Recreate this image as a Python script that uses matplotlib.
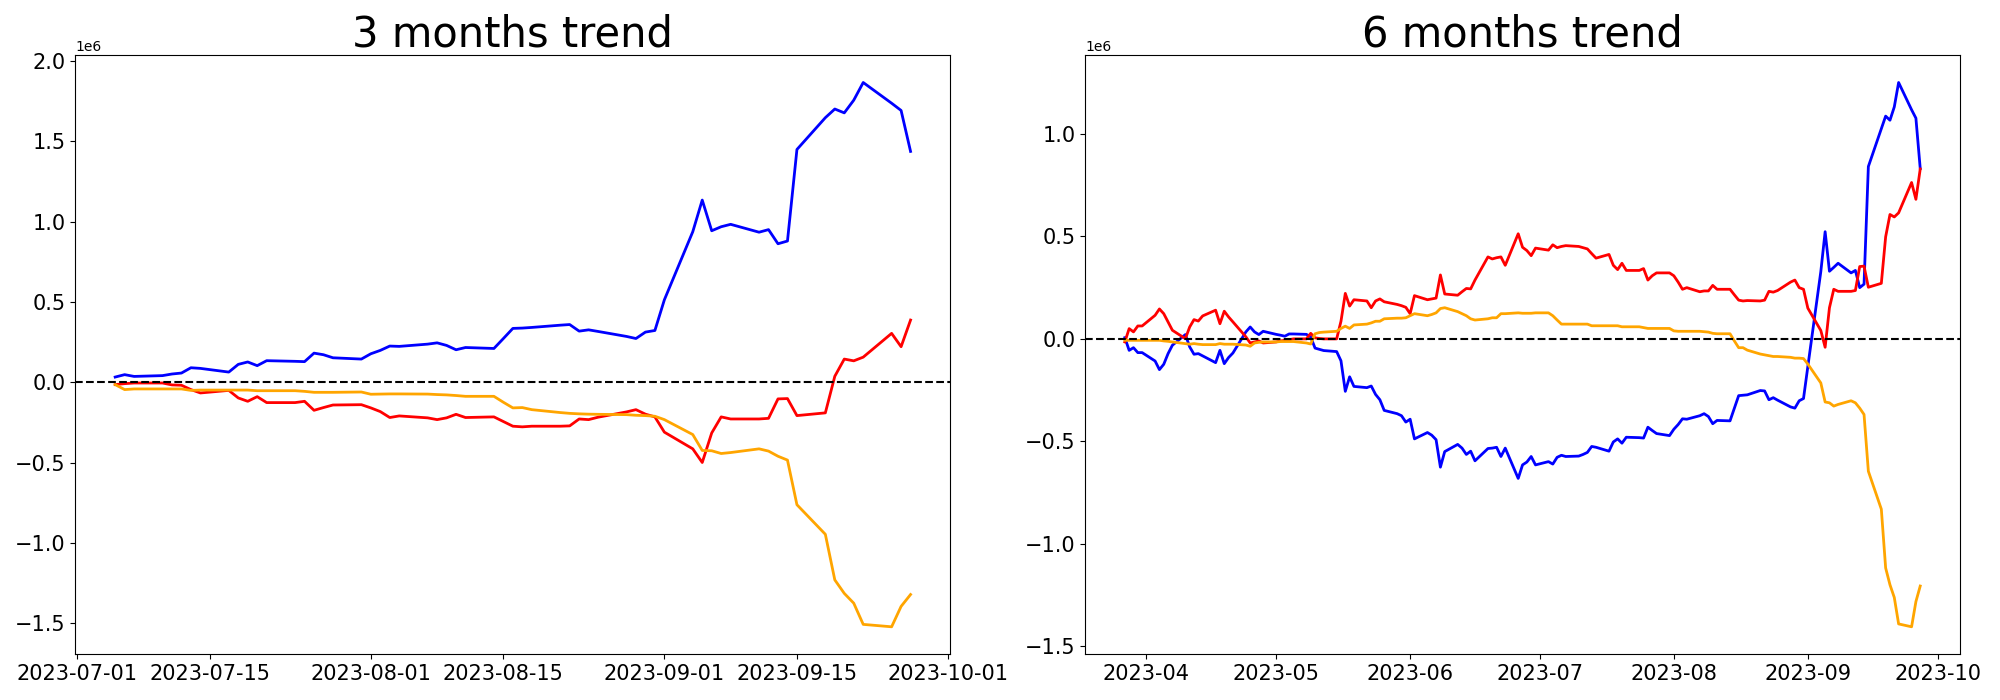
import pandas as pd
import matplotlib
matplotlib.use("Agg")
import matplotlib.pyplot as plt
import matplotlib.dates as mdates

# business days shown in each panel
dates_3m = pd.bdate_range("2023-07-05", "2023-09-27")
dates_6m = pd.bdate_range("2023-03-27", "2023-09-27")

# 3 months trend (values in 1e6)
blue_3m = [0.033, 0.048, 0.037, 0.042, 0.052, 0.058, 0.091, 0.087, 0.064, 0.112,
           0.127, 0.104, 0.135, 0.131, 0.129, 0.182, 0.172, 0.153, 0.145,
           0.178, 0.199, 0.226, 0.224, 0.238, 0.246, 0.230, 0.203, 0.217, 0.211,
           0.273, 0.336, 0.338, 0.342, 0.356, 0.360, 0.319, 0.327, 0.317, 0.286,
           0.273, 0.313, 0.323,
           0.514, 0.938, 1.135, 0.944, 0.969, 0.984, 0.935, 0.951, 0.863, 0.880,
           1.450, 1.648, 1.702, 1.678, 1.757, 1.867, 1.738, 1.693, 1.438]
red_3m = [-0.014, -0.008, -0.004, -0.004, -0.016, -0.018, -0.045, -0.066, -0.050, -0.097,
          -0.118, -0.089, -0.126, -0.126, -0.118, -0.174, -0.157, -0.141, -0.139,
          -0.159, -0.182, -0.219, -0.209, -0.221, -0.232, -0.221, -0.199, -0.219, -0.215,
          -0.244, -0.273, -0.277, -0.273, -0.273, -0.271, -0.228, -0.232, -0.217, -0.184,
          -0.170, -0.198, -0.215,
          -0.310, -0.414, -0.499, -0.315, -0.215, -0.228, -0.228, -0.224, -0.103, -0.101,
          -0.207, -0.190, 0.038, 0.145, 0.134, 0.157, 0.305, 0.222, 0.388]
orange_3m = [-0.014, -0.045, -0.041, -0.041, -0.041, -0.041, -0.050, -0.048, -0.048, -0.048,
             -0.048, -0.052, -0.052, -0.052, -0.056, -0.062, -0.062, -0.062, -0.060,
             -0.074, -0.073, -0.072, -0.072, -0.073, -0.076, -0.078, -0.082, -0.087, -0.087,
             -0.124, -0.159, -0.157, -0.170, -0.188, -0.193, -0.196, -0.198, -0.199, -0.201,
             -0.205, -0.207, -0.211,
             -0.232, -0.325, -0.424, -0.426, -0.443, -0.437, -0.414, -0.428, -0.460, -0.484,
             -0.762, -0.946, -1.230, -1.314, -1.375, -1.507, -1.522, -1.395, -1.321]

# 6 months trend (values in 1e6)
blue_6m = [0.006, -0.056, -0.043, -0.067, -0.067,
           -0.108, -0.150, -0.124, -0.072, -0.031, 0.021, -0.039, -0.075, -0.072, -0.083,
           -0.116, -0.056, -0.121, -0.091, -0.069, 0.034, 0.058, 0.034, 0.021, 0.037,
           0.022, 0.018, 0.013, 0.024, 0.024, 0.022, 0.009, -0.045, -0.051, -0.057,
           -0.062, -0.107, -0.256, -0.185, -0.232, -0.238, -0.230, -0.271, -0.297, -0.349,
           -0.365, -0.375, -0.406,
           -0.392, -0.488, -0.457, -0.470, -0.492, -0.626, -0.550, -0.515, -0.533, -0.564,
           -0.548, -0.595, -0.535, -0.533, -0.529, -0.574, -0.533, -0.681, -0.615, -0.601,
           -0.574, -0.615,
           -0.599, -0.611, -0.578, -0.568, -0.574, -0.572, -0.564, -0.554, -0.525, -0.529,
           -0.548, -0.503, -0.488, -0.509, -0.480, -0.482, -0.484, -0.431, -0.447, -0.462,
           -0.472,
           -0.441, -0.418, -0.390, -0.392, -0.375, -0.365, -0.379, -0.414, -0.398,
           -0.400, -0.338, -0.277, -0.275, -0.273, -0.252, -0.254, -0.297, -0.287, -0.299,
           -0.332, -0.338, -0.302, -0.291,
           -0.135, 0.328, 0.523, 0.330, 0.349, 0.369, 0.322, 0.334, 0.250, 0.267, 0.841,
           1.026, 1.087, 1.067, 1.132, 1.251, 1.118, 1.077, 0.831]
red_6m = [-0.015, 0.050, 0.034, 0.063, 0.063,
          0.115, 0.146, 0.123, 0.083, 0.042, 0.001, 0.058, 0.094, 0.087, 0.112,
          0.140, 0.074, 0.135, 0.107, 0.083, 0.010, -0.020, -0.015, -0.010, -0.020,
          -0.015, -0.010, -0.007, -0.004, 0.000, 0.000, 0.027, 0.005, 0.002, 0.000,
          0.000, 0.086, 0.222, 0.160, 0.191, 0.185, 0.152, 0.185, 0.195, 0.181,
          0.168, 0.162, 0.154,
          0.123, 0.211, 0.191, 0.195, 0.199, 0.312, 0.219, 0.213, 0.230, 0.246,
          0.244, 0.287, 0.400, 0.390, 0.396, 0.400, 0.359, 0.513, 0.447, 0.431,
          0.406, 0.443,
          0.433, 0.459, 0.445, 0.451, 0.455, 0.451, 0.445, 0.439, 0.416, 0.394,
          0.412, 0.359, 0.338, 0.369, 0.334, 0.334, 0.343, 0.287, 0.308, 0.322,
          0.322,
          0.308, 0.277, 0.242, 0.250, 0.230, 0.234, 0.234, 0.261, 0.242,
          0.242, 0.215, 0.189, 0.185, 0.187, 0.185, 0.189, 0.232, 0.228, 0.236,
          0.277, 0.287, 0.250, 0.242,
          0.150, 0.041, -0.041, 0.152, 0.242, 0.232, 0.232, 0.236, 0.353, 0.355, 0.252,
          0.271, 0.498, 0.607, 0.595, 0.615, 0.763, 0.681, 0.829]
orange_6m = [-0.007, -0.007, -0.007, -0.007, -0.007,
             -0.007, -0.007, -0.010, -0.012, -0.015, -0.023, -0.026, -0.023, -0.026, -0.028,
             -0.028, -0.023, -0.026, -0.026, -0.026, -0.030, -0.036, -0.020, -0.017, -0.015,
             -0.015, -0.013, -0.013, -0.013, -0.013, -0.020, -0.025, 0.025, 0.031, 0.033,
             0.037, 0.051, 0.062, 0.051, 0.068, 0.072, 0.078, 0.086, 0.086, 0.098,
             0.101, 0.101, 0.103,
             0.113, 0.123, 0.113, 0.119, 0.127, 0.148, 0.152, 0.133, 0.123, 0.113,
             0.098, 0.092, 0.098, 0.103, 0.103, 0.123, 0.123, 0.127, 0.125, 0.125,
             0.125, 0.127,
             0.127, 0.113, 0.092, 0.072, 0.072, 0.072, 0.072, 0.072, 0.064, 0.064,
             0.064, 0.064, 0.064, 0.059, 0.059, 0.059, 0.055, 0.051, 0.051, 0.051,
             0.051,
             0.039, 0.037, 0.037, 0.037, 0.037, 0.035, 0.033, 0.027, 0.025,
             0.025, -0.010, -0.043, -0.043, -0.055, -0.074, -0.078, -0.082, -0.086, -0.086,
             -0.090, -0.094, -0.094, -0.096,
             -0.123, -0.215, -0.308, -0.312, -0.328, -0.320, -0.302, -0.312, -0.338, -0.369,
             -0.646, -0.831, -1.118, -1.200, -1.262, -1.391, -1.405, -1.282, -1.206]


def draw(ax, dates, blue, red, orange, title):
    scale = 1e6
    ax.plot(dates, [v * scale for v in blue], color='blue', linewidth=2)
    ax.plot(dates, [v * scale for v in red], color='red', linewidth=2)
    ax.plot(dates, [v * scale for v in orange], color='orange', linewidth=2)
    ax.axhline(0, color='black', linestyle='--', linewidth=1.5)
    ax.set_title(title, fontsize=30)
    ax.tick_params(labelsize=15)


fig, axes = plt.subplots(1, 2, figsize=(20, 7), dpi=100)

draw(axes[0], dates_3m, blue_3m, red_3m, orange_3m, '3 months trend')
axes[0].xaxis.set_major_locator(mdates.DayLocator(bymonthday=[1, 15]))
axes[0].xaxis.set_major_formatter(mdates.DateFormatter('%Y-%m-%d'))

draw(axes[1], dates_6m, blue_6m, red_6m, orange_6m, '6 months trend')
axes[1].xaxis.set_major_locator(mdates.MonthLocator())
axes[1].xaxis.set_major_formatter(mdates.DateFormatter('%Y-%m'))

plt.subplots_adjust(left=0.0377, right=0.98, bottom=0.0657, top=0.921, wspace=0.154)
plt.savefig('out.png', dpi=100)
